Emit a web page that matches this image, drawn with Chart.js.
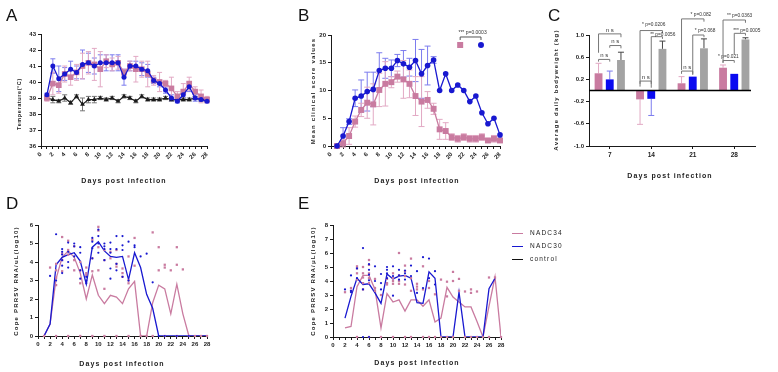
<!DOCTYPE html>
<html>
<head>
<meta charset="utf-8">
<script src="https://cdn.jsdelivr.net/npm/chart.js@4.4.1/dist/chart.umd.min.js"></script>
<style>
  body { margin: 0; background: #fff; }
  #fig { position: relative; width: 778px; height: 372px; overflow: hidden;
         font-family: 'Liberation Sans', Arial, sans-serif; color: #222; }
  canvas { position: absolute; }
  .letter { position: absolute; font-size: 17px; line-height: 17px; color: #111; }
  .t { position: absolute; white-space: nowrap; font-weight: bold; transform: translate(-50%, -50%); }
  .xt { font-size: 7px; letter-spacing: 1.1px; }
  .yt { font-size: 6px; letter-spacing: 1.2px; transform: translate(-50%, -50%) rotate(-90deg); }
  .leg { position: absolute; font-size: 6.5px; letter-spacing: 1.2px; white-space: nowrap; line-height: 8px; }
  .legline { position: absolute; height: 1px; width: 11px; }
</style>
</head>
<body>
<div id="fig">
  <canvas id="cA" width="260" height="190" style="left:0;top:0"></canvas>
  <canvas id="cB" width="260" height="190" style="left:260px;top:0"></canvas>
  <canvas id="cC" width="258" height="190" style="left:520px;top:0"></canvas>
  <canvas id="cD" width="260" height="182" style="left:0;top:190px"></canvas>
  <canvas id="cE" width="260" height="182" style="left:260px;top:190px"></canvas>

  <div class="letter" style="left:6px;top:7px">A</div>
  <div class="letter" style="left:298px;top:7px">B</div>
  <div class="letter" style="left:548px;top:7px">C</div>
  <div class="letter" style="left:6px;top:195px">D</div>
  <div class="letter" style="left:298px;top:195px">E</div>

  <div class="t xt" style="left:124px;top:180px">Days post infection</div>
  <div class="t xt" style="left:417px;top:180px">Days post infection</div>
  <div class="t xt" style="left:670px;top:175px">Days post infection</div>
  <div class="t xt" style="left:122px;top:363px">Days post infection</div>
  <div class="t xt" style="left:417px;top:362px">Days post infection</div>

  <div class="t yt" style="left:19px;top:104px;font-size:5.5px;letter-spacing:0.6px">Temperature(°C)</div>
  <div class="t yt" style="left:313px;top:91px">Mean clinical score values</div>
  <div class="t yt" style="left:556px;top:90px">Average daily bodyweight (kg)</div>
  <div class="t yt" style="left:16px;top:281px">Cope PRRSV RNA/uL(log10)</div>
  <div class="t yt" style="left:313px;top:281px">Cope PRRSV RNA/μL(log10)</div>

  <div class="legline" style="left:512px;top:233px;background:#c97ba0"></div>
  <div class="leg" style="left:530px;top:229px">NADC34</div>
  <div class="legline" style="left:512px;top:246px;background:#1818d0"></div>
  <div class="leg" style="left:530px;top:242px">NADC30</div>
  <div class="legline" style="left:512px;top:259px;background:#111"></div>
  <div class="leg" style="left:530px;top:255px">control</div>
</div>

<script>
// ---- data ----
const days = [1, 2, 3, 4, 5, 6, 7, 8, 9, 10, 11, 12, 13, 14, 15, 16, 17, 18, 19, 20, 21, 22, 23, 24, 25, 26, 27, 28];

// A: rectal temperature
const tempNADC34 = [39.0, 39.9, 39.8, 40.5, 40.3, 40.6, 41.0, 41.2, 41.1, 40.8, 41.3, 41.1, 41.2, 40.6, 41.0, 40.8, 40.8, 40.5, 40.1, 40.0, 39.9, 39.6, 39.1, 39.4, 39.9, 39.4, 39.1, 38.9];
const tempNADC34Sd = [0.2, 0.7, 0.5, 0.5, 0.5, 0.5, 0.8, 0.7, 1.0, 1.1, 0.4, 0.4, 0.4, 0.2, 0.3, 0.8, 0.5, 0.8, 0.3, 0.6, 0.2, 0.7, 0.3, 0.5, 0.4, 0.3, 0.4, 0.2];
const tempNADC30 = [39.2, 41.0, 40.2, 40.5, 40.8, 40.6, 41.1, 41.2, 41.0, 41.2, 41.2, 41.2, 41.2, 40.3, 41.0, 41.0, 40.8, 40.7, 40.1, 39.9, 39.5, 39.0, 38.8, 39.2, 39.7, 39.0, 38.9, 38.8];
const tempNADC30Sd = [0.1, 0.45, 0.8, 0.4, 0.5, 0.4, 0.9, 0.6, 0.5, 0.5, 0.5, 0.5, 0.5, 0.5, 0.3, 0.3, 0.4, 0.4, 0.2, 0.2, 0.2, 0.2, 0.1, 0.2, 0.3, 0.2, 0.1, 0.1];
const tempControl = [39.0, 38.9, 38.8, 39.0, 38.7, 39.1, 38.6, 38.9, 38.9, 39.0, 38.9, 39.0, 38.8, 39.1, 39.0, 38.8, 39.1, 38.9, 38.9, 38.9, 39.0, 38.9, 38.9, 38.9, 38.9, 39.0, 38.9, 38.9];
const tempControlSd = [0.1, 0.2, 0.1, 0.2, 0.1, 0.1, 0.4, 0.2, 0.2, 0.1, 0.1, 0.1, 0.1, 0.1, 0.1, 0.1, 0.1, 0.1, 0.1, 0.1, 0.1, 0.1, 0.1, 0.1, 0.1, 0.1, 0.1, 0.1];

// B: clinical scores
const scoreNADC30 = [0, 1.8, 4.4, 8.6, 9.0, 9.8, 10.2, 13.6, 14.0, 14.0, 15.4, 14.8, 14.2, 15.4, 13.0, 14.5, 15.5, 10.0, 13.0, 10.0, 11.0, 10.0, 8.0, 9.0, 6.0, 4.0, 5.0, 2.0];
const scoreNADC30Sd = [0, 1.5, 0.5, 1.5, 2.9, 3.5, 3.1, 3.2, 1.8, 1.5, 1.1, 2.4, 1.6, 3.8, 4.4, 3.5, 0.6, 0, 0, 0, 0, 0, 0, 0, 0, 0, 0, 0];
const scoreNADC34 = [0, 0.5, 1.8, 4.4, 6.5, 7.8, 7.5, 10.1, 11.2, 11.5, 12.5, 12.0, 11.2, 9.0, 8.0, 8.3, 6.7, 3.0, 2.7, 1.6, 1.3, 1.6, 1.3, 1.3, 1.6, 1.0, 1.3, 1.0];
const scoreNADC34Sd = [0, 0.7, 1.5, 1.0, 1.2, 2.8, 3.7, 3.0, 4.0, 1.0, 1.0, 3.4, 2.5, 3.5, 4.5, 1.5, 1.0, 1.8, 1.5, 0.6, 0.6, 0.6, 0.6, 0.6, 0.6, 0.3, 0.6, 0.3];

// C: average daily bodyweight gain
const weekLabels = ['7', '14', '21', '28'];
const gainNADC34 = [0.31, -0.16, 0.13, 0.41];
const gainNADC34Sd = [0.18, 0.45, 0.12, 0.05];
const gainNADC30 = [0.20, -0.15, 0.25, 0.30];
const gainNADC30Sd = [0.15, 0.30, 0, 0];
const gainControl = [0.55, 0.75, 0.76, 0.92];
const gainControlSd = [0.14, 0.14, 0.17, 0.03];

// D: viremia, means and individual pigs [day, value]
const dMeanNADC30 = [0, 0.65, 3.85, 4.25, 4.4, 4.5, 4.05, 2.8, 4.8, 5.1, 4.6, 4.3, 4.25, 4.3, 3.05, 4.5, 3.7, 2.25, 1.5, 0, 0, 0, 0, 0, 0, 0, 0, 0];
const dMeanNADC34 = [0, 0.65, 3.1, 4.25, 4.6, 4.25, 3.4, 2.0, 3.3, 2.2, 1.75, 2.2, 2.1, 1.75, 2.55, 2.95, 0, 0, 1.8, 2.75, 2.55, 1.2, 2.8, 1.2, 0, 0, 0, 0];
const dDotsNADC30 = [[2, 3.25], [3, 5.5], [3, 3.0], [4, 4.7], [4, 4.55], [4, 4.4], [4, 4.1], [4, 3.8], [4, 3.4],
  [5, 5.05], [5, 4.55], [5, 4.0], [5, 3.7], [6, 5.0], [6, 4.85], [6, 4.3], [7, 4.8], [7, 4.5], [7, 3.55], [7, 3.1],
  [8, 3.2], [8, 3.0], [8, 2.85], [9, 5.3], [9, 5.1], [9, 4.75], [9, 4.2], [10, 5.75], [10, 5.4], [10, 5.0], [10, 4.5],
  [11, 5.0], [11, 4.85], [11, 4.7], [11, 4.1], [12, 5.05], [12, 4.7], [12, 4.5], [12, 3.65], [12, 3.1],
  [13, 5.4], [13, 4.7], [13, 3.9], [13, 3.55], [14, 5.4], [14, 4.9], [14, 4.65], [14, 3.2], [15, 5.1], [15, 3.0],
  [16, 4.9], [16, 4.8], [17, 4.3], [18, 4.45], [19, 2.9], [20, 0], [21, 0], [23, 0], [25, 0]];
const dDotsNADC34 = [[1, 0], [2, 3.7], [3, 3.9], [3, 3.55], [3, 3.15], [3, 2.75], [4, 5.35], [4, 4.45], [4, 4.1], [4, 3.5],
  [5, 5.15], [5, 4.65], [5, 4.4], [6, 4.85], [6, 4.1], [6, 3.55], [7, 4.0], [7, 3.55], [7, 2.85], [8, 3.7], [8, 3.4], [8, 3.3],
  [9, 5.2], [9, 4.2], [9, 3.5], [10, 5.9], [10, 5.7], [10, 4.8], [10, 3.55], [11, 4.65], [11, 4.1], [11, 2.55],
  [12, 4.55], [12, 4.2], [13, 4.65], [13, 3.9], [13, 3.75], [14, 3.65], [14, 3.4], [14, 3.2], [15, 4.3], [15, 3.0], [15, 2.85],
  [16, 5.3], [16, 3.8], [19, 5.6], [20, 4.8], [20, 3.55], [21, 3.85], [21, 3.7], [22, 3.55], [23, 4.8], [23, 3.85], [24, 3.6],
  [3, 0], [5, 0], [7, 0], [9, 0], [11, 0], [13, 0], [15, 0], [17, 0], [18, 0], [19, 0], [21, 0], [23, 0], [25, 0], [26, 0], [27, 0], [28, 0]];

// E: viremia, second sample set
const eDays = [2, 3, 4, 5, 6, 7, 8, 9, 10, 11, 12, 13, 14, 15, 16, 17, 18, 19, 20, 21, 22, 23, 24, 25, 26, 27, 28];
const eMeanNADC30 = [1.35, 2.9, 4.2, 3.75, 3.8, 3.15, 2.4, 4.5, 4.15, 4.35, 4.4, 4.2, 2.45, 2.4, 4.65, 4.2, 0, 0, 0, 3.2, 0, 0, 0, 0, 3.45, 4.2, null];
const eMeanNADC34 = [0.65, 0.75, 3.6, 4.4, 4.4, 3.4, 0.65, 3.1, 2.5, 2.65, 1.85, 2.65, 2.65, 2.2, 2.65, 1.07, 1.35, 3.55, 2.85, 2.5, 2.15, 2.15, 1.1, 0, 2.2, 4.3, 0];
const eDotsNADC30 = [[2, 3.4], [3, 4.4], [3, 3.3], [3, 3.2], [4, 4.9], [4, 4.2], [5, 6.35], [5, 3.4], [5, 0], [6, 5.2], [6, 4.8], [6, 4.45], [6, 4.05], [6, 0],
  [7, 5.05], [7, 4.0], [8, 4.5], [8, 3.85], [8, 3.4], [9, 5.0], [9, 4.8], [9, 4.55], [9, 4.2], [10, 5.05], [10, 4.35], [10, 2.95],
  [11, 4.8], [11, 4.4], [11, 4.1], [12, 4.75], [12, 4.55], [12, 4.1], [13, 5.1], [13, 4.35], [14, 4.7], [14, 3.15],
  [15, 5.7], [15, 3.5], [16, 5.6], [16, 4.2], [17, 4.7], [17, 3.75]];
const eDotsNADC34 = [[2, 3.2], [3, 3.5], [3, 3.3], [4, 5.05], [4, 4.9], [4, 4.55], [4, 4.1], [5, 5.0], [5, 4.55], [5, 4.25], [5, 3.85], [5, 3.4],
  [6, 5.5], [6, 5.15], [6, 4.55], [6, 4.2], [6, 3.85], [7, 4.15], [7, 3.5], [7, 3.3], [8, 3.0], [9, 4.15], [9, 3.85], [9, 3.75],
  [10, 4.55], [10, 4.2], [10, 4.0], [10, 3.8], [11, 6.0], [11, 4.4], [11, 4.0], [11, 3.8], [12, 5.1], [12, 4.7], [12, 4.35], [12, 3.75],
  [13, 5.6], [13, 4.2], [13, 3.3], [14, 3.8], [14, 3.6], [14, 3.4], [15, 5.05], [15, 3.4], [16, 4.0], [16, 3.5], [17, 3.05],
  [18, 4.1], [19, 3.95], [19, 2.9], [20, 4.65], [20, 4.0], [21, 4.15], [21, 3.3], [22, 3.25], [23, 3.4], [23, 3.15], [24, 3.25],
  [26, 4.25], [27, 4.25], [4, 0], [6, 0], [8, 0], [10, 0], [12, 0], [13, 0], [15, 0], [16, 0], [17, 0], [18, 0], [19, 0], [20, 0],
  [22, 0], [23, 0], [24, 0], [25, 0], [26, 0], [28, 0]];

// ---- style ----
const FONT = "'Liberation Sans', Arial, sans-serif";
const INK = '#1a1a1a';
const PINK = '#c97ba0', PINK_ERR = '#e2a9c4';
const BLUE = '#1818d0', BLUE_ERR = '#7c7cee';
const GRAY = '#a3a3a3';

const evenDay = v => (v % 2 === 0 ? String(v) : '');
const pts = (xs, ys) => xs.map((x, i) => ({ x, y: ys[i] }));
const pairPts = list => list.map(([x, y]) => ({ x, y }));

function axis(min, max, step, size, cb, rot) {
  return {
    type: 'linear', min, max,
    afterFit: s => { if (s.isHorizontal()) s.height = size; else s.width = size; },
    grid: { display: true, drawOnChartArea: false, drawTicks: true, tickLength: 3, color: INK, lineWidth: 1 },
    border: { display: true, color: INK, width: 1 },
    ticks: {
      stepSize: step, autoSkip: false, maxRotation: rot || 0, minRotation: rot || 0,
      callback: cb, color: '#222', padding: 2,
      font: { family: FONT, size: 6, weight: 'bold' }
    }
  };
}

// error bars drawn from the dataset's own scale
const errorBars = {
  id: 'errorBars',
  beforeDatasetsDraw(chart) {
    const ctx = chart.ctx;
    chart.data.datasets.forEach((ds, i) => {
      if (!ds.errors) return;
      const meta = chart.getDatasetMeta(i);
      const ys = chart.scales[meta.yAxisID];
      ctx.save();
      ctx.strokeStyle = ds.errorColor;
      ctx.lineWidth = 1;
      meta.data.forEach((el, j) => {
        const e = ds.errors[j];
        if (!e) return;
        const raw = ds.data[j];
        const v = typeof raw === 'object' ? raw.y : raw;
        const cap = ds.errorCap || 2.5;
        const ends = ds.oneSided ? [v, v + Math.sign(v) * e] : [v - e, v + e];
        const y1 = ys.getPixelForValue(ends[0]);
        const y2 = ys.getPixelForValue(ends[1]);
        ctx.beginPath();
        ctx.moveTo(el.x, y1); ctx.lineTo(el.x, y2);
        ctx.moveTo(el.x - cap, y2); ctx.lineTo(el.x + cap, y2);
        if (!ds.oneSided) { ctx.moveTo(el.x - cap, y1); ctx.lineTo(el.x + cap, y1); }
        ctx.stroke();
      });
      ctx.restore();
    });
  }
};

const base = (padding) => ({
  responsive: false, animation: false, events: [],
  layout: { padding },
  plugins: { legend: { display: false }, tooltip: { enabled: false } }
});

// ---- A ----
new Chart(document.getElementById('cA'), {
  type: 'line',
  data: {
    datasets: [
      { data: pts(days, tempNADC30), errors: tempNADC30Sd, errorColor: BLUE_ERR, borderColor: BLUE, backgroundColor: BLUE,
        borderWidth: 1.3, pointStyle: 'circle', pointRadius: 2.5, pointBorderWidth: 0, clip: false },
      { data: pts(days, tempNADC34), errors: tempNADC34Sd, errorColor: PINK_ERR, borderColor: PINK, backgroundColor: PINK,
        borderWidth: 1.3, pointStyle: 'rect', pointRadius: 4, pointBorderWidth: 0, clip: false },
      { data: pts(days, tempControl), errors: tempControlSd, errorColor: '#777', borderColor: INK, backgroundColor: INK,
        borderWidth: 1.2, pointStyle: 'triangle', pointRadius: 2.8, pointBorderWidth: 0, clip: false }
    ]
  },
  options: Object.assign(base({ left: 21, right: 53, top: 34, bottom: 24 }), {
    scales: { x: axis(0, 28, 1, 20, evenDay, 45), y: axis(36, 43, 1, 20) }
  }),
  plugins: [errorBars]
});

// ---- B ----
const bNote = {
  id: 'bNote',
  afterDraw(chart) {
    const { ctx, scales: { x, y } } = chart;
    const x1 = x.getPixelForValue(21.4), x2 = x.getPixelForValue(24.85);
    const yb = y.getPixelForValue(19.64), yl = y.getPixelForValue(19.1), ym = y.getPixelForValue(18.2);
    ctx.save();
    ctx.strokeStyle = '#555'; ctx.lineWidth = 1;
    ctx.beginPath(); ctx.moveTo(x1, yl); ctx.lineTo(x1, yb); ctx.lineTo(x2, yb); ctx.lineTo(x2, yl); ctx.stroke();
    ctx.fillStyle = '#333'; ctx.font = `5px ${FONT}`; ctx.textAlign = 'center'; ctx.textBaseline = 'bottom';
    ctx.fillText('*** p=0.0003', (x1 + x2) / 2 + 2, yb - 1.5);
    ctx.fillStyle = PINK; ctx.fillRect(x1 - 3, ym - 3, 6, 6);
    ctx.fillStyle = BLUE; ctx.beginPath(); ctx.arc(x2, ym, 3, 0, Math.PI * 2); ctx.fill();
    ctx.restore();
  }
};
new Chart(document.getElementById('cB'), {
  type: 'line',
  data: {
    datasets: [
      { data: pts(days, scoreNADC30), errors: scoreNADC30Sd, errorColor: BLUE_ERR, errorCap: 3, borderColor: BLUE, backgroundColor: BLUE,
        borderWidth: 1.3, pointStyle: 'circle', pointRadius: 2.8, pointBorderWidth: 0, clip: false },
      { data: pts(days, scoreNADC34), errors: scoreNADC34Sd, errorColor: PINK_ERR, errorCap: 3, borderColor: PINK, backgroundColor: PINK,
        borderWidth: 1.3, pointStyle: 'rect', pointRadius: 4.2, pointBorderWidth: 0, clip: false }
    ]
  },
  options: Object.assign(base({ left: 51, right: 20, top: 35, bottom: 24 }), {
    scales: { x: axis(0, 28, 1, 20, evenDay, 45), y: axis(0, 20, 5, 20) }
  }),
  plugins: [errorBars, bNote]
});

// ---- C ----
const cBrackets = [
  { cat: 0, from: 0, to: 2, y: 1.02, legFrom: 0.68, legTo: 0.96, text: 'ns' },
  { cat: 0, from: 1, to: 2, y: 0.81, legFrom: 0.77, legTo: 0.76, text: 'ns' },
  { cat: 0, from: 0, to: 1, y: 0.56, legFrom: 0.52, legTo: 0.52, text: 'ns' },
  { cat: 1, from: 0, to: 1, y: 0.17, legFrom: 0.12, legTo: 0.12, text: 'ns' },
  { cat: 1, from: 0, to: 2, y: 1.08, legFrom: 0.07, legTo: 1.03, text: '* p=0.0206', dx: 2, dy: 3 },
  { cat: 1, from: 1, to: 2, y: 0.97, legFrom: 0.05, legTo: 0.93, text: '** p=0.0056', dx: -1, dy: 0 },
  { cat: 2, from: 0, to: 1, y: 0.35, legFrom: 0.30, legTo: 0.30, text: 'ns' },
  { cat: 2, from: 0, to: 2, y: 1.29, legFrom: 0.37, legTo: 1.24, text: '* p=0.082', dx: 9, dy: 2 },
  { cat: 2, from: 1, to: 2, y: 1.00, legFrom: 0.28, legTo: 0.96, text: '* p=0.068', dx: 2, dy: 2 },
  { cat: 3, from: 0, to: 1, y: 0.54, legFrom: 0.50, legTo: 0.50, text: '* p=0.021', dx: -5, dy: 1 },
  { cat: 3, from: 0, to: 2, y: 1.27, legFrom: 0.50, legTo: 1.22, text: '** p=0.0363', dx: 4, dy: 2 },
  { cat: 3, from: 1, to: 2, y: 1.03, legFrom: 0.64, legTo: 0.99, text: '*** p=0.0005', dx: -1, dy: 0 }
];
const cExtras = {
  id: 'cExtras',
  afterDraw(chart) {
    const { ctx, chartArea, scales: { y } } = chart;
    ctx.save();
    // zero line
    const y0 = y.getPixelForValue(0);
    ctx.strokeStyle = '#000'; ctx.lineWidth = 1.6;
    ctx.beginPath(); ctx.moveTo(chartArea.left, y0); ctx.lineTo(chartArea.right - 4, y0); ctx.stroke();
    // significance brackets
    ctx.strokeStyle = '#777'; ctx.lineWidth = 1;
    ctx.textBaseline = 'bottom';
    cBrackets.forEach(b => {
      const x1 = chart.getDatasetMeta(b.from).data[b.cat].x;
      const x2 = chart.getDatasetMeta(b.to).data[b.cat].x;
      const yb = y.getPixelForValue(b.y);
      ctx.beginPath();
      ctx.moveTo(x1, y.getPixelForValue(b.legFrom)); ctx.lineTo(x1, yb);
      ctx.lineTo(x2, yb); ctx.lineTo(x2, y.getPixelForValue(b.legTo));
      ctx.stroke();
      ctx.fillStyle = '#333';
      if (b.text === 'ns') {
        ctx.font = `6px ${FONT}`; ctx.textAlign = 'center';
        ctx.fillText('n s', (x1 + x2) / 2, yb - 1);
      } else {
        ctx.font = `4.8px ${FONT}`; ctx.textAlign = 'left';
        ctx.fillText(b.text, x1 + b.dx, yb - b.dy);
      }
    });
    ctx.restore();
  }
};
const cAxisX = {
  type: 'category', offset: true,
  afterFit: s => { s.height = 20; },
  grid: { display: true, offset: false, drawOnChartArea: false, drawTicks: true, tickLength: 3, color: INK },
  border: { display: true, color: INK, width: 1 },
  ticks: { color: '#222', padding: 2, font: { family: FONT, size: 6.5, weight: 'bold' } }
};
new Chart(document.getElementById('cC'), {
  type: 'bar',
  data: {
    labels: weekLabels,
    datasets: [
      { data: gainNADC34, errors: gainNADC34Sd, oneSided: true, errorColor: PINK_ERR, backgroundColor: PINK },
      { data: gainNADC30, errors: gainNADC30Sd, oneSided: true, errorColor: BLUE_ERR, backgroundColor: '#0a0af0' },
      { data: gainControl, errors: gainControlSd, oneSided: true, errorColor: '#444', backgroundColor: GRAY }
    ].map(d => Object.assign(d, { categoryPercentage: 0.81, barPercentage: 0.7, borderWidth: 0, errorCap: 3 }))
  },
  options: Object.assign(base({ left: 49, right: 23, top: 35, bottom: 24 }), {
    scales: { x: cAxisX, y: axis(-1, 1, 0.4, 20, v => v.toFixed(1)) }
  }),
  plugins: [errorBars, cExtras]
});

// ---- D & E ----
function viremia(id, xs, mean30, mean34, dots30, dots34, ymax, pad) {
  new Chart(document.getElementById(id), {
    type: 'line',
    data: {
      datasets: [
        { data: pairPts(dots30), showLine: false, pointStyle: 'circle', pointRadius: 1.1, pointBorderWidth: 0,
          backgroundColor: BLUE, clip: false },
        { data: pairPts(dots34), showLine: false, pointStyle: 'rect', pointRadius: 1.6, pointBorderWidth: 0,
          backgroundColor: PINK, clip: false },
        { data: pts(xs, mean30), borderColor: BLUE, borderWidth: 1.3, pointRadius: 0, spanGaps: false },
        { data: pts(xs, mean34), borderColor: PINK, borderWidth: 1.3, pointRadius: 0 }
      ]
    },
    options: Object.assign(base(pad), {
      scales: { x: axis(0, 28, 1, 14, evenDay), y: axis(0, ymax, 1, 20) }
    })
  });
}
viremia('cD', days, dMeanNADC30, dMeanNADC34, dDotsNADC30, dDotsNADC34, 6, { left: 18, right: 53, top: 35, bottom: 22 });
viremia('cE', eDays, eMeanNADC30, eMeanNADC34, eDotsNADC30, eDotsNADC34, 8, { left: 53, right: 19, top: 35, bottom: 21 });
</script>
</body>
</html>
